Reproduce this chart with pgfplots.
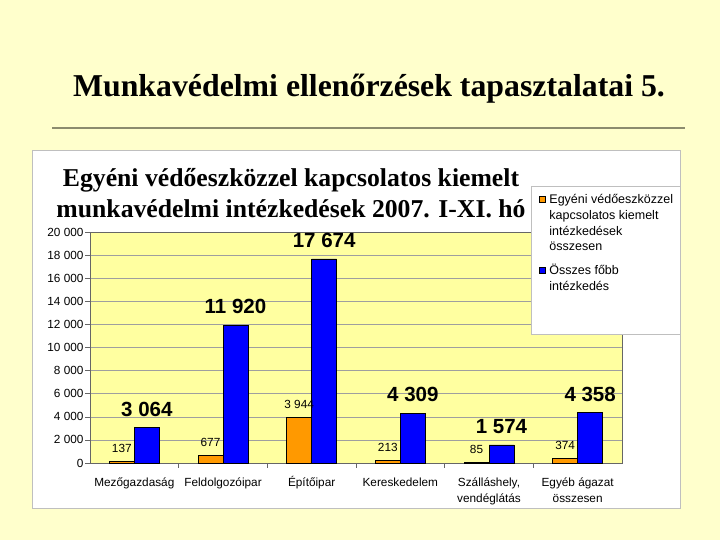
\documentclass[border=0pt]{standalone}
\usepackage{fontspec}
\setmainfont{Liberation Serif}
\setsansfont{Liberation Sans}
\usepackage{pgfplots}
\pgfplotsset{compat=1.18}
\definecolor{slidebg}{RGB}{255,255,204}
\definecolor{plotbg}{RGB}{255,255,160}
\definecolor{xlorange}{RGB}{255,153,0}
\definecolor{xlblue}{RGB}{0,0,255}
\definecolor{ruleline}{RGB}{140,140,110}
\pgfplotsset{sqlegend/.style={legend image code/.code={\draw[##1, draw=black, line width=0.4pt] (2pt,#1-3pt) rectangle (8pt,#1+3pt); \path (10pt,0pt);}}}
\newcommand{\legtext}[1]{\makebox[123pt][l]{\parbox[b]{128pt}{\raggedright #1}}}
\newcommand{\xs}{\rule{0pt}{13pt}}
\begin{document}
\begin{tikzpicture}[x=1pt,y=1pt]
\useasboundingbox (0,0) rectangle (720,540);
\fill[slidebg] (0,0) rectangle (720,540);
\node[anchor=base, font=\bfseries\fontsize{31.8}{36}\selectfont, inner sep=0pt] at (369,443) {Munkavédelmi ellenőrzések tapasztalatai 5.};
\draw[ruleline, line width=1.2pt] (52,412) -- (685,412);
\filldraw[fill=white, draw=gray!50, line width=0.8pt] (32,32) rectangle (680,390);
\node[anchor=base, font=\bfseries\fontsize{25.7}{30}\selectfont, inner sep=0pt] at (291,353) {Egyéni védőeszközzel kapcsolatos kiemelt};
\node[anchor=base, font=\bfseries\fontsize{25.7}{30}\selectfont, inner sep=0pt] at (291,322) {munkavédelmi intézkedések 2007. I-XI. hó};
\begin{axis}[
  at={(90pt,77pt)}, anchor=south west,
  scale only axis, width=532pt, height=231pt,
  ybar=0pt, bar width=25pt,
  xmin=-0.5, xmax=5.5, ymin=0, ymax=20000,
  enlargelimits=false, clip=false,
  xtick={0,...,5},
  xticklabels={{\xs Mezőgazdaság\\\mbox{}}, {\xs Feldolgozóipar\\\mbox{}}, {\xs Építőipar\\\mbox{}}, {\xs Kereskedelem\\\mbox{}}, {\xs Szálláshely,\\vendéglátás}, {\xs Egyéb ágazat\\összesen}},
  minor xtick={0.5,1.5,2.5,3.5,4.5},
  major x tick style={draw=none},
  ytick={0,2000,...,20000},
  tick align=outside, tick pos=left,
  major tick length=5pt, minor tick length=5pt,
  ymajorgrids, grid style={gray!75, line width=0.5pt},
  axis background/.style={fill=plotbg},
  axis line style={gray!80!black},
  tick style={gray!80!black, line width=0.5pt},
  scaled y ticks=false,
  /pgf/number format/1000 sep={\ },
  /pgf/number format/assume math mode=true,
  yticklabel style={font=\sffamily\fontsize{11.8}{14}\selectfont, xshift=2pt},
  xticklabel style={font=\sffamily\fontsize{11.8}{16}\selectfont, align=center, yshift=-1.5pt},
  legend style={at={(rel axis cs:0.829,1.199)}, anchor=north west, draw=gray!50, fill=white,
     font=\sffamily\fontsize{12.5}{15.8}\selectfont, inner xsep=6pt, inner ysep=6pt, row sep=8pt},
  legend cell align=left,
]
\addplot+[sqlegend=23.7pt, fill=xlorange, draw=black, line width=0.4pt,
  nodes near coords,
  every node near coord/.append style={anchor=south, inner sep=0pt, yshift=8.5pt, black, font=\sffamily\fontsize{11.8}{14}\selectfont}]
  coordinates {(0,137) (1,677) (2,3944) (3,213) (4,85) (5,374)};
\addplot+[sqlegend=7.9pt, fill=xlblue, draw=black, line width=0.4pt,
  nodes near coords,
  every node near coord/.append style={anchor=south, inner sep=0pt, yshift=11pt, black, font=\sffamily\bfseries\fontsize{20.5}{24}\selectfont}]
  coordinates {(0,3064) (1,11920) (2,17674) (3,4309) (4,1574) (5,4358)};
\addlegendentry{\legtext{Egyéni védőeszközzel\\kapcsolatos kiemelt\\intézkedések\\összesen}}
\addlegendentry{\legtext{Összes főbb\\intézkedés}}
\addlegendimage{empty legend}
\addlegendentry{\rule{0pt}{21pt}}
\end{axis}
\end{tikzpicture}
\end{document}
